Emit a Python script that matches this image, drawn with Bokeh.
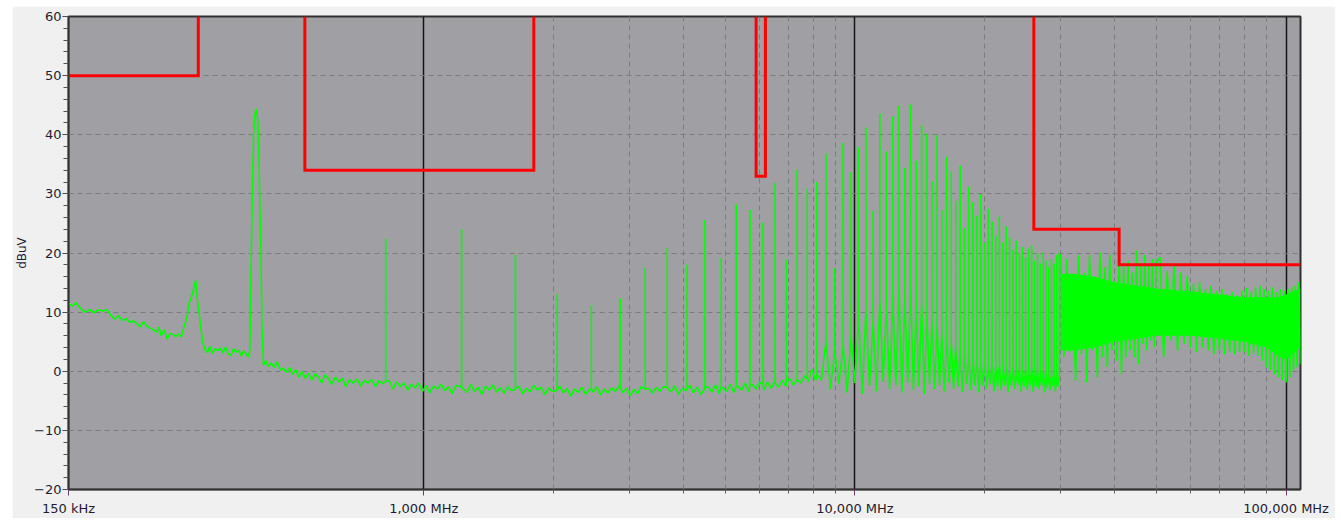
from bokeh.plotting import figure
from bokeh.models import FixedTicker, SingleIntervalTicker, CustomJSTickFormatter, Range1d
from bokeh.embed import file_html
from bokeh.resources import INLINE

# ---------------- data ----------------
# noise floor of the measured spectrum (MHz, dBuV), incl. the broad bump and the first harmonic
floor_mhz = [
    0.150, 0.153, 0.156, 0.160, 0.164, 0.168, 0.172, 0.176, 0.180, 0.184, 0.188, 0.192, 0.196, 0.200,
    0.204, 0.208, 0.212, 0.216, 0.220, 0.224, 0.228, 0.232, 0.236, 0.240,
    0.243, 0.246, 0.250, 0.254, 0.258, 0.262, 0.266, 0.270, 0.274,
    0.278, 0.282, 0.286, 0.290, 0.293, 0.296, 0.298, 0.301, 0.304, 0.307,
    0.311, 0.315, 0.319, 0.323, 0.328, 0.333, 0.337, 0.342, 0.347, 0.352, 0.357, 0.362, 0.367, 0.372,
    0.377, 0.382, 0.387, 0.391, 0.395,
    0.397, 0.400, 0.403, 0.406, 0.409, 0.412, 0.414, 0.417, 0.419, 0.4215, 0.425,
    0.430, 0.436, 0.443, 0.450, 0.457, 0.465, 0.472, 0.480, 0.488, 0.496, 0.505, 0.513, 0.522, 0.531,
    0.540, 0.550, 0.560, 0.570, 0.580, 0.590, 0.600, 0.612, 0.624, 0.636, 0.648, 0.660, 0.673, 0.686,
    0.700, 0.714, 0.728, 0.742, 0.757, 0.772, 0.787, 0.802,
    0.832, 0.848, 0.865, 0.882, 0.900, 0.918, 0.936, 0.955, 0.974, 0.993, 1.013, 1.033, 1.054, 1.075,
    1.097, 1.119, 1.141, 1.164, 1.187,
    1.235, 1.260, 1.285, 1.311, 1.337, 1.364, 1.391, 1.419, 1.447, 1.476, 1.506, 1.536, 1.567, 1.598,
    1.662, 1.696, 1.730, 1.764, 1.800, 1.836, 1.872, 1.910, 1.948, 1.987,
    2.067, 2.108, 2.150, 2.193, 2.237, 2.282, 2.328, 2.375, 2.422,
    2.470, 2.520, 2.570, 2.622, 2.674, 2.728, 2.782, 2.838,
    2.895, 2.953, 3.012, 3.072, 3.134, 3.196,
    3.326, 3.392, 3.460, 3.529, 3.600,
    3.745, 3.820, 3.896, 3.974, 4.054,
    4.135, 4.218, 4.302, 4.388, 4.476,
    4.565, 4.657, 4.750, 4.845,
    4.942, 5.041, 5.142, 5.244,
    5.349, 5.456, 5.566, 5.677,
    5.790, 5.906, 6.024,
    6.145, 6.268, 6.393, 6.521,
    6.651, 6.784, 6.920,
    7.059, 7.200,
    7.491, 7.640, 7.793, 7.949, 8.108,
    8.364, 8.772, 9.180, 9.588, 9.996, 10.404, 10.812, 11.220, 11.628, 12.036,
    12.444, 12.852, 13.260, 13.668, 14.076, 14.484, 14.892, 15.300, 15.708, 16.116,
    16.524, 16.932, 17.340, 17.748, 18.156, 18.564, 18.972, 19.380, 19.788, 20.196,
    20.604, 21.012, 21.420, 21.828, 22.236, 22.644, 23.052, 23.460, 23.868, 24.276,
    24.684, 25.092, 25.500, 25.908, 26.316, 26.724, 27.132, 27.540, 27.948, 28.356,
    28.764, 29.172, 29.580,
]
floor_dbuv = [
    11.5, 11.0, 11.6, 10.6, 10.0, 10.4, 9.9, 10.4, 10.2, 10.4, 9.5, 8.8, 9.4, 8.6,
    8.9, 8.3, 8.5, 8.1, 7.5, 8.4, 7.6, 7.3, 7.0, 6.6,
    7.5, 6.0, 7.0, 5.4, 6.4, 6.2, 5.9, 6.3, 5.8,
    7.5, 9.0, 11.6, 12.8, 14.2, 15.4, 12.5, 10.0, 7.5, 5.0,
    3.6, 3.2, 4.2, 3.0, 3.8, 3.5, 3.9, 3.1, 4.1, 2.9, 2.7, 3.8, 3.2, 3.6,
    2.6, 3.4, 3.0, 2.4, 3.4,
    14.0, 29.0, 40.0, 43.4, 44.4, 42.5, 39.5, 27.0, 21.5, 7.5, 1.0,
    1.8, 0.8, 1.4, 0.6, 1.6, 0.2, 0.5, -0.2, 0.6, -0.5, 0.3, -1.0, 0.0, -1.2,
    -0.3, -1.5, -0.4, -1.0, -2.0, -0.6, -1.2, -2.2, -1.0, -1.8, -1.2, -2.6, -1.4, -2.0,
    -1.3, -2.5, -1.5, -2.0, -1.4, -2.6, -1.6, -2.1,
    -1.6, -3.0, -1.8, -2.6, -2.0, -3.2, -2.2, -2.8, -2.0, -3.4, -2.4, -3.6, -2.5, -3.0,
    -2.2, -3.3, -2.6, -3.8, -2.4,
    -3.0, -3.6, -2.2, -3.4, -2.7, -3.9, -2.5, -3.2, -2.3, -3.5, -2.8, -3.7, -2.6, -3.3,
    -2.5, -3.8, -2.9, -3.5, -2.4, -3.2, -2.7, -4.0, -2.8, -3.4,
    -2.5, -3.6, -2.9, -4.2, -3.0, -3.6, -2.7, -3.9, -3.1,
    -3.5, -2.6, -4.0, -3.0, -3.7, -2.8, -3.4, -2.5,
    -3.6, -2.9, -4.1, -3.1, -3.8, -2.6,
    -2.9, -3.7, -2.7, -3.4, -2.6,
    -3.5, -2.5, -3.9, -2.9, -3.3,
    -2.4, -3.6, -2.7, -4.0, -3.0,
    -2.6, -3.5, -2.3, -3.8,
    -2.8, -3.4, -2.2, -3.6,
    -2.5, -3.2, -2.0, -3.5,
    -2.3, -3.0, -1.9,
    -3.2, -1.8, -2.9, -1.6,
    -2.7, -1.5, -2.6,
    -1.2, -2.3,
    -2.0, -0.8, -1.8, 0.4, -1.6,
    -1.5, -3.0, -2.2, -3.6, -2.0, -3.8, -2.5, -3.4, -1.8, -3.0,
    -2.4, -3.6, -2.0, -3.2, -2.6, -3.8, -2.2, -3.0, -2.4, -3.4,
    -2.0, -3.0, -2.6, -3.5, -2.2, -3.2, -2.5, -3.6, -2.4, -3.0,
    -2.2, -3.4, -2.6, -3.2, -2.4, -3.6, -2.5, -3.0, -2.3, -3.4,
    -2.6, -3.2, -2.4, -3.5, -2.6, -3.0, -2.4, -3.6, -2.8, -3.2,
    -2.5, -3.4, -2.6,
]

# harmonic spikes: frequency (MHz), level at the foot and peak level (dBuV)
harm_mhz = [
    0.816, 1.224, 1.632, 2.040, 2.448, 2.856, 3.264, 3.672, 4.080, 4.488,
    4.896, 5.304, 5.712, 6.120, 6.528, 6.936, 7.344, 7.752, 8.160,
    8.568, 8.976, 9.384, 9.792, 10.200, 10.608, 11.016, 11.424, 11.832, 12.240,
    12.648, 13.056, 13.464, 13.872, 14.280, 14.688, 15.096, 15.504, 15.912, 16.320,
    16.728, 17.136, 17.544, 17.952, 18.360, 18.768, 19.176, 19.584, 19.992, 20.400,
    20.808, 21.216, 21.624, 22.032, 22.440, 22.848, 23.256, 23.664, 24.072, 24.480,
    24.888, 25.296, 25.704, 26.112, 26.520, 26.928, 27.336, 27.744, 28.152, 28.560,
    28.968, 29.376, 29.784,
]
harm_base = [
    -1.7, -2.6, -3.0, -3.2, -3.1, -2.9, -3.0, -2.8, -2.9, -2.7,
    -2.6, -2.5, -2.4, -2.2, -2.0, -1.8, -1.4, -1.2, -0.5,
    5.0, 3.5, 4.5, 6.0, 9.0, 10.5, 8.5, 12.0, 11.0, 12.5,
    14.0, 12.5, 15.0, 11.0, 11.5, 9.5, 8.5, 8.0, 6.5, 6.0,
    5.0, 4.2, 3.5, 3.0, 2.8, 2.0, 2.2, 1.5, 1.8, 1.0,
    1.4, 0.8, 1.2, 0.5, 1.0, 0.2, 0.8, 0.0, 0.6, -0.2,
    0.5, 0.0, 0.6, -0.3, 0.4, -0.5, 0.3, -0.4, 0.2, -0.6,
    0.0, -0.8, -0.5,
]
harm_peak = [
    22.4, 24.1, 19.7, 13.1, 11.1, 12.3, 17.5, 20.9, 18.0, 25.6,
    19.2, 28.2, 27.3, 25.1, 31.9, 18.9, 34.1, 30.9, 32.0,
    36.8, 17.4, 38.6, 33.7, 37.9, 41.2, 27.2, 43.6, 37.2, 43.1,
    44.9, 34.4, 45.1, 35.6, 41.7, 40.2, 32.1, 39.9, 27.3, 36.2,
    33.8, 28.9, 34.8, 24.2, 31.2, 28.6, 26.3, 30.0, 21.8, 27.5,
    25.3, 22.9, 26.2, 21.8, 24.5, 22.7, 20.6, 22.1, 20.0, 21.0,
    19.3, 20.7, 21.3, 18.7, 20.0, 18.2, 20.1, 18.7, 17.6, 19.0,
    18.2, 19.7, 20.1,
]

# dense part above 30 MHz: trace alternating between upper and lower excursions
dense_mhz = [
    30.0, 30.5, 31.0, 31.5, 32.0, 32.5, 33.0, 33.5, 34.0, 34.5, 35.0, 35.5, 36.0, 36.5,
    37.0, 37.5, 38.0, 38.5, 39.0, 39.5, 40.0, 40.5, 41.0, 41.5, 42.0, 42.5, 43.0, 43.5,
    44.0, 44.5, 45.0, 45.5, 46.0, 46.5, 47.0, 47.5, 48.0, 48.5, 49.0, 49.5, 50.0,
    51, 52, 53, 54, 55, 56, 57, 58, 59, 60, 61, 62, 63, 64, 65, 66, 67, 68, 69, 70,
    71, 72, 73, 74, 75, 76, 77, 78, 79, 80, 81, 82, 83, 84, 85, 86, 87, 88, 89, 90,
    91, 92, 93, 94, 95, 96, 97, 98, 99, 100, 101, 102, 103, 104, 105, 106, 107, 108,
]
dense_dbuv = [
    19.8, 2.4, 19.0, 3.2, 15.9, -1.6, 19.6, 2.9, 16.7, -1.9, 19.6, 3.5, 14.6, -1.0,
    20.1, 2.4, 17.6, 0.7, 19.8, 3.5, 15.3, 1.8, 19.6, -0.5, 17.9, 2.4, 18.7, 3.5,
    16.7, 2.4, 20.4, 1.2, 18.2, 4.6, 19.6, 3.5, 17.9, 5.2, 19.0, 4.0, 18.4,
    19.3, 2.4, 17.0, 5.2, 18.0, 3.5, 16.7, 4.6, 16.2, 4.0, 14.8, 3.2, 15.1, 4.0, 13.9, 3.5, 14.5, 2.9, 13.6, 3.5,
    13.9, 2.9, 13.1, 3.2, 13.4, 2.9, 12.8, 3.2, 13.6, 3.2, 14.1, 2.6, 13.6, 3.0, 14.2, 2.6, 14.5, 1.8, 13.9, 0.7,
    13.6, 0.2, 14.2, -0.5, 13.4, -1.0, 13.9, -1.5, 13.6, -1.9, 13.9, -1.0, 14.2, 0.1, 14.5, 0.7, 15.1, 1.2,
]

# solid core of the dense part (MHz, lower / upper dBuV)
band_mhz = [30, 32, 36, 40, 45, 50, 60, 70, 80, 90, 96, 100, 104, 108]
band_lo = [3.5, 3.5, 4.0, 5.0, 5.5, 6.0, 6.0, 5.5, 5.0, 4.0, 2.5, 2.0, 3.0, 4.0]
band_hi = [16.5, 16.5, 16.0, 15.0, 14.5, 14.0, 13.5, 13.0, 12.5, 12.5, 12.5, 13.0, 13.5, 14.0]

# limit line (MHz, dBuV)
lw_mhz = [0.15, 0.30, 0.30]
lw_dbuv = [50, 50, 60]
mw_mhz = [0.53, 0.53, 1.8, 1.8]
mw_dbuv = [60, 34, 34, 60]
sw_mhz = [5.9, 5.9, 6.2, 6.2]
sw_dbuv = [60, 33, 33, 60]
vhf_mhz = [26, 26, 41, 41, 108]
vhf_dbuv = [60, 24, 24, 18, 18]

# axis labels
x_tick_values = [0.15, 1, 10, 100]
x_tick_labels = ["150 kHz", "1,000 MHz", "10,000 MHz", "100,000 MHz"]
x_minor_values = [2, 3, 4, 5, 6, 7, 8, 9, 20, 30, 40, 50, 60, 70, 80, 90]
y_label = "dBuV"

assert len(floor_mhz) == len(floor_dbuv)
assert len(harm_mhz) == len(harm_base) == len(harm_peak)
assert len(dense_mhz) == len(dense_dbuv)

# ---------------- build trace ----------------
pts = list(zip(floor_mhz, floor_dbuv))
for f, b, pk in zip(harm_mhz, harm_base, harm_peak):
    pts += [(f, b), (f, pk), (f, b)]
pts.sort(key=lambda t: t[0])
trace_x = [t[0] for t in pts]
trace_y = [t[1] for t in pts]

# ---------------- figure ----------------
FONT = "DejaVu Sans"
TXT = "#1e1c30"
GRID = "#7b7b80"

p = figure(width=1323, height=512, x_axis_type="log",
           x_range=Range1d(0.15, 108), y_range=Range1d(-20, 60),
           output_backend="svg", toolbar_location=None, margin=(6, 0, 0, 12),
           min_border_left=54, min_border_right=35, min_border_top=10, min_border_bottom=29)
p.background_fill_color = "#a0a0a4"
p.border_fill_color = "#f0f0f0"
p.outline_line_color = "#303030"
p.outline_line_width = 2

# y axis
p.yaxis.ticker = SingleIntervalTicker(interval=10, num_minor_ticks=5)
p.yaxis.major_label_text_font = FONT
p.yaxis.major_label_text_font_size = "13px"
p.yaxis.major_label_text_color = TXT
p.yaxis.major_tick_out = 6
p.yaxis.major_tick_in = 0
p.yaxis.minor_tick_out = 5
p.yaxis.minor_tick_in = 0
p.yaxis.major_tick_line_color = "#404040"
p.yaxis.minor_tick_line_color = "#505050"
p.yaxis.major_label_standoff = 1
p.yaxis.axis_line_color = "#303030"
p.yaxis.axis_line_width = 1.5
p.yaxis.axis_label = y_label
p.yaxis.axis_label_text_font = FONT
p.yaxis.axis_label_text_font_size = "12px"
p.yaxis.axis_label_text_font_style = "normal"
p.yaxis.axis_label_text_color = TXT
p.yaxis.axis_label_standoff = 2

# x axis
p.xaxis.ticker = FixedTicker(ticks=x_tick_values, minor_ticks=x_minor_values)
p.xaxis.formatter = CustomJSTickFormatter(
    args=dict(vals=x_tick_values, labs=x_tick_labels),
    code="""
    for (let i = 0; i < vals.length; i++) {
        if (Math.abs(vals[i] - tick) < 1e-6 * vals[i]) { return labs[i]; }
    }
    return "";
    """)
p.xaxis.major_label_text_font = FONT
p.xaxis.major_label_text_font_size = "13px"
p.xaxis.major_label_text_color = TXT
p.xaxis.major_tick_out = 6
p.xaxis.major_tick_in = 0
p.xaxis.minor_tick_out = 4
p.xaxis.minor_tick_in = 0
p.xaxis.major_tick_line_color = "#6a3c6a"
p.xaxis.minor_tick_line_color = "#606060"
p.xaxis.major_label_standoff = 5
p.xaxis.axis_line_color = "#303030"
p.xaxis.axis_line_width = 1.5

# grids
p.ygrid.grid_line_color = GRID
p.ygrid.grid_line_dash = "5 4"
p.ygrid.grid_line_width = 1
p.xgrid.ticker = FixedTicker(ticks=[1, 10, 100], minor_ticks=x_minor_values)
p.xgrid.grid_line_color = "#141414"
p.xgrid.grid_line_width = 1.5
p.xgrid.minor_grid_line_color = GRID
p.xgrid.minor_grid_line_dash = "5 4"
p.xgrid.minor_grid_line_width = 1

# spectrum
GREEN = "#00ff00"
p.varea(x=band_mhz, y1=band_lo, y2=band_hi, fill_color=GREEN)
p.line(dense_mhz, dense_dbuv, line_color=GREEN, line_width=1.6)
p.line(trace_x, trace_y, line_color=GREEN, line_width=1.6)

# limit
p.multi_line(xs=[lw_mhz, mw_mhz, sw_mhz, vhf_mhz], ys=[lw_dbuv, mw_dbuv, sw_dbuv, vhf_dbuv],
             line_color="#ff0000", line_width=3, line_join="miter")

open("out.html", "w").write(file_html(p, INLINE))
